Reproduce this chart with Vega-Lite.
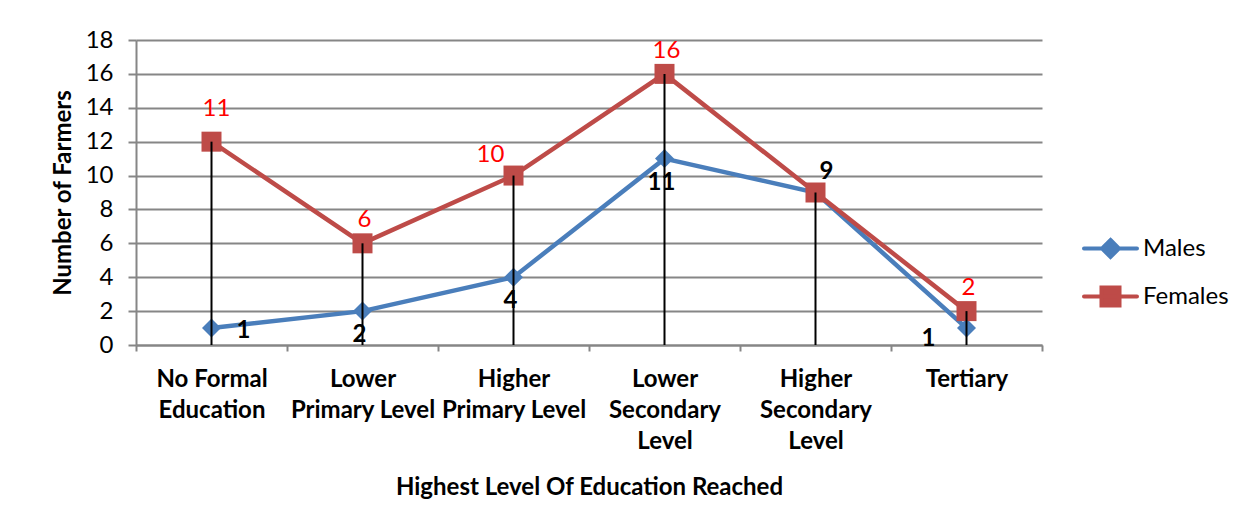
{
  "$schema": "https://vega.github.io/schema/vega-lite/v6.json",
  "width": 906,
  "height": 305,
  "autosize": {"type": "none"},
  "padding": {"left": 136, "top": 40, "right": 200, "bottom": 180},
  "background": "white",
  "config": {"view": {"stroke": null}, "font": "Lato"},
  "data": {
    "values": [
      {"category": "No Formal Education", "series": "Males", "value": 1, "label": "1"},
      {"category": "Lower Primary Level", "series": "Males", "value": 2, "label": "2"},
      {"category": "Higher Primary Level", "series": "Males", "value": 4, "label": "4"},
      {"category": "Lower Secondary Level", "series": "Males", "value": 11, "label": "11"},
      {"category": "Higher Secondary Level", "series": "Males", "value": 9, "label": "9"},
      {"category": "Tertiary", "series": "Males", "value": 1, "label": "1"},
      {"category": "No Formal Education", "series": "Females", "value": 12, "label": "11"},
      {"category": "Lower Primary Level", "series": "Females", "value": 6, "label": "6"},
      {"category": "Higher Primary Level", "series": "Females", "value": 10, "label": "10"},
      {"category": "Lower Secondary Level", "series": "Females", "value": 16, "label": "16"},
      {"category": "Higher Secondary Level", "series": "Females", "value": 9, "label": ""},
      {"category": "Tertiary", "series": "Females", "value": 2, "label": "2"}
    ]
  },
  "encoding": {
    "x": {
      "field": "category",
      "type": "nominal",
      "bandPosition": 0.5,
      "scale": {
        "type": "band",
        "paddingInner": 0,
        "paddingOuter": 0,
        "domain": ["No Formal Education", "Lower Primary Level", "Higher Primary Level", "Lower Secondary Level", "Higher Secondary Level", "Tertiary"]
      },
      "axis": {
        "title": "Highest Level Of Education Reached",
        "titleFontSize": 24,
        "titleFontWeight": "bold",
        "titleColor": "black",
        "titlePadding": 22,
        "labelAngle": 0,
        "labelFontWeight": "bold",
        "labelFontSize": 24,
        "labelColor": "black",
        "labelLineHeight": 31,
        "labelBaseline": "top",
        "labelPadding": 16,
        "labelOverlap": false,
        "labelBound": false,
        "labelLimit": 0,
        "labelExpr": "datum.value == 'No Formal Education' ? ['No Formal','Education'] : datum.value == 'Lower Primary Level' ? ['Lower','Primary Level'] : datum.value == 'Higher Primary Level' ? ['Higher','Primary Level'] : datum.value == 'Lower Secondary Level' ? ['Lower','Secondary','Level'] : datum.value == 'Higher Secondary Level' ? ['Higher','Secondary','Level'] : datum.label",
        "tickBand": "extent",
        "tickSize": 6,
        "tickColor": "#868686",
        "tickWidth": 2,
        "domainColor": "#868686",
        "domainWidth": 2,
        "grid": false
      }
    },
    "y": {
      "field": "value",
      "type": "quantitative",
      "scale": {"domain": [0, 18], "nice": false},
      "axis": {
        "title": "Number of Farmers",
        "titleFontSize": 24,
        "titleFontWeight": "bold",
        "titleColor": "black",
        "titlePadding": 10,
        "values": [0, 2, 4, 6, 8, 10, 12, 14, 16, 18],
        "labelFontSize": 24,
        "labelColor": "black",
        "labelPadding": 15,
        "grid": true,
        "gridColor": "#868686",
        "gridWidth": 2,
        "domainColor": "#868686",
        "domainWidth": 2,
        "tickColor": "#868686",
        "tickWidth": 2,
        "tickSize": 8
      }
    }
  },
  "layer": [
    {
      "transform": [{"filter": "datum.series == 'Males'"}],
      "mark": {"type": "line", "strokeWidth": 4.5},
      "encoding": {
        "color": {
          "field": "series",
          "type": "nominal",
          "scale": {"domain": ["Males", "Females"], "range": ["#4A7EBB", "#BE4B48"]},
          "legend": {
            "orient": "none",
            "legendX": 946,
            "legendY": 180,
            "title": null,
            "labelFontSize": 24,
            "labelColor": "black",
            "labelFont": "Lato",
            "symbolSize": 2809,
            "symbolStrokeWidth": 4,
            "rowPadding": 3,
            "labelOffset": 4,
            "encode": {
              "symbols": {
                "update": {
                  "shape": {"signal": "datum.value === 'Males' ? 'M-1,0L1,0M0,-0.32L0.32,0L0,0.32L-0.32,0Z' : 'M-1,0L1,0M-0.34,-0.34L0.34,-0.34L0.34,0.34L-0.34,0.34Z'"},
                  "fill": {"scale": "color", "field": "value"},
                  "stroke": {"scale": "color", "field": "value"},
                  "strokeCap": {"value": "round"},
                  "fillOpacity": {"value": 1},
                  "opacity": {"value": 1}
                }
              }
            }
          }
        }
      }
    },
    {
      "transform": [{"filter": "datum.series == 'Males'"}],
      "mark": {"type": "point", "shape": "diamond", "filled": true, "size": 360, "color": "#4A7EBB", "opacity": 1}
    },
    {
      "transform": [{"filter": "datum.series == 'Females'"}],
      "mark": {"type": "line", "strokeWidth": 4.5},
      "encoding": {
        "color": {"field": "series", "type": "nominal"}
      }
    },
    {
      "transform": [{"filter": "datum.series == 'Females'"}],
      "mark": {"type": "point", "shape": "square", "filled": true, "size": 400, "color": "#BE4B48", "opacity": 1}
    },
    {
      "transform": [{"aggregate": [{"op": "max", "field": "value", "as": "top"}], "groupby": ["category"]}],
      "mark": {"type": "rule", "color": "black", "strokeWidth": 2},
      "encoding": {
        "y": {"field": "top", "type": "quantitative"},
        "y2": {"datum": 0}
      }
    },
    {
      "transform": [{"filter": "datum.series == 'Males' && datum.category == 'No Formal Education'"}],
      "mark": {"type": "text", "fontSize": 24, "fontWeight": "bold", "color": "black", "dx": 32, "dy": 3, "baseline": "middle"},
      "encoding": {"text": {"field": "label"}}
    },
    {
      "transform": [{"filter": "datum.series == 'Males' && (datum.category == 'Lower Primary Level' || datum.category == 'Higher Primary Level' || datum.category == 'Lower Secondary Level')"}],
      "mark": {"type": "text", "fontSize": 24, "fontWeight": "bold", "color": "black", "dx": -3, "dy": 24, "baseline": "middle"},
      "encoding": {"text": {"field": "label"}}
    },
    {
      "transform": [{"filter": "datum.series == 'Males' && datum.category == 'Higher Secondary Level'"}],
      "mark": {"type": "text", "fontSize": 24, "fontWeight": "bold", "color": "black", "dx": 11, "dy": -21, "baseline": "middle"},
      "encoding": {"text": {"field": "label"}}
    },
    {
      "transform": [{"filter": "datum.series == 'Males' && datum.category == 'Tertiary'"}],
      "mark": {"type": "text", "fontSize": 24, "fontWeight": "bold", "color": "black", "dx": -38, "dy": 11, "baseline": "middle"},
      "encoding": {"text": {"field": "label"}}
    },
    {
      "transform": [{"filter": "datum.series == 'Females' && (datum.category == 'Lower Primary Level' || datum.category == 'Lower Secondary Level' || datum.category == 'Tertiary')"}],
      "mark": {"type": "text", "fontSize": 24, "color": "red", "dx": 2, "dy": -23, "baseline": "middle"},
      "encoding": {"text": {"field": "label"}}
    },
    {
      "transform": [{"filter": "datum.series == 'Females' && datum.category == 'No Formal Education'"}],
      "mark": {"type": "text", "fontSize": 24, "color": "red", "dx": 5, "dy": -33, "baseline": "middle"},
      "encoding": {"text": {"field": "label"}}
    },
    {
      "transform": [{"filter": "datum.series == 'Females' && datum.category == 'Higher Primary Level'"}],
      "mark": {"type": "text", "fontSize": 24, "color": "red", "dx": -23, "dy": -21, "baseline": "middle"},
      "encoding": {"text": {"field": "label"}}
    }
  ]
}
